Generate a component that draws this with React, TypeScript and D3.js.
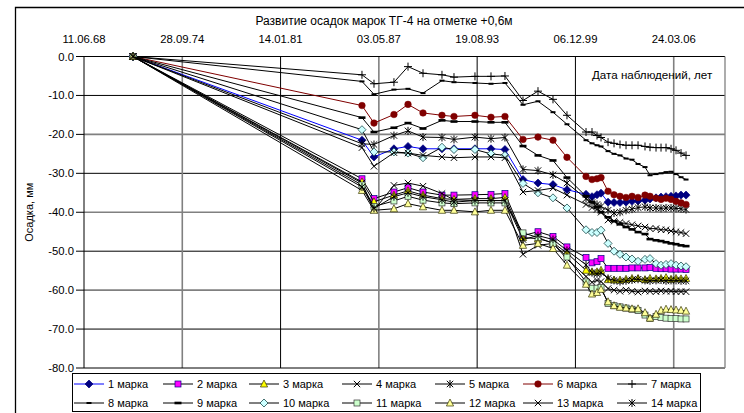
import React from "react";
import * as d3 from "d3";

const W = 744;
const H = 413;

const chartTitle = "Развитие осадок марок ТГ-4 на отметке +0,6м";
const yAxisTitle = "Осадка, мм";
const xAxisTitle = "Дата наблюдений, лет";
const xTickLabels = ["11.06.68", "28.09.74", "14.01.81", "03.05.87", "19.08.93", "06.12.99", "24.03.06"];
const yTickValues = [0, -10, -20, -30, -40, -50, -60, -70, -80];

const obsDates = [
  "1971-08-02", "1986-04-03", "1987-01-09", "1988-04-20", "1989-03-15", "1990-03-01",
  "1991-05-19", "1992-02-24", "1993-06-29", "1994-07-09", "1995-06-01", "1996-07-27",
  "1997-07-13", "1998-06-29", "1999-05-22", "2000-08-10", "2000-12-28", "2001-04-24",
  "2001-07-27", "2002-01-07", "2002-05-27", "2002-10-14", "2003-03-04", "2003-07-22",
  "2003-12-10", "2004-05-21", "2004-09-15", "2005-02-03", "2005-05-31", "2005-09-25",
  "2006-01-20", "2006-05-17", "2006-09-11", "2007-01-06",
];

const seriesNames = [
  "1 марка", "2 марка", "3 марка", "4 марка", "5 марка", "6 марка", "7 марка",
  "8 марка", "9 марка", "10 марка", "11 марка", "12 марка", "13 марка", "14 марка",
];

const s1 = [0, -21.5, -25.8, -23.7, -23.1, -23.7, -23.7, -23.7, -23.7, -23.7, -23.9, -31.6, -32.5, -32.9, -34.2, -35.4, -36.0, -35.5, -35.1, -37.4, -37.5, -37.5, -37.4, -37.2, -37.1, -36.9, -36.6, -36.3, -36.1, -36.0, -35.9, -35.8, -35.6, -35.6];
const s2 = [0, -31.4, -36.5, -34.8, -33.7, -34.8, -35.6, -35.6, -35.5, -35.4, -35.2, -46.0, -45.0, -46.2, -48.9, -51.6, -53.0, -52.7, -51.9, -54.4, -54.4, -54.4, -54.4, -54.3, -54.3, -54.3, -54.2, -54.4, -54.5, -54.5, -54.6, -54.6, -54.6, -54.7];
const s3 = [0, -32.2, -37.3, -35.6, -34.5, -35.6, -36.5, -36.7, -36.5, -36.5, -36.2, -46.5, -46.8, -47.8, -50.5, -54.9, -55.3, -55.3, -54.9, -57.3, -57.4, -57.4, -57.2, -57.0, -57.0, -57.3, -57.0, -57.1, -57.0, -56.8, -57.2, -57.0, -57.1, -57.0];
const s4 = [0, -32.5, -39.5, -33.1, -32.5, -33.3, -35.2, -36.8, -37.0, -37.0, -37.0, -50.8, -48.5, -48.0, -52.0, -56.5, -58.0, -57.5, -57.8, -59.6, -60.0, -60.3, -60.0, -60.3, -60.5, -60.2, -60.3, -60.4, -60.2, -60.3, -60.3, -60.4, -60.4, -60.4];
const s5 = [0, -22.4, -22.6, -20.3, -19.1, -20.7, -20.8, -21.3, -20.7, -21.1, -20.8, -29.0, -29.3, -30.4, -32.5, -36.5, -37.5, -38.0, -38.5, -39.5, -40.2, -40.0, -39.5, -39.2, -38.8, -38.6, -38.9, -38.9, -39.0, -38.9, -38.9, -39.0, -39.1, -39.3];
const s6 = [0, -12.6, -17.1, -14.9, -12.3, -14.5, -15.1, -15.4, -15.1, -15.6, -15.4, -21.3, -20.7, -21.5, -25.9, -30.8, -31.6, -31.4, -31.1, -34.6, -35.5, -35.9, -36.2, -35.9, -36.2, -35.6, -35.9, -36.4, -36.7, -36.4, -36.7, -37.2, -37.6, -38.0];
const s7 = [0, -4.7, -7.0, -6.6, -2.6, -4.3, -4.7, -5.3, -5.1, -5.1, -5.0, -11.3, -8.9, -11.0, -15.1, -19.4, -19.4, -20.3, -20.8, -22.0, -22.3, -22.6, -22.8, -22.8, -22.8, -23.1, -23.3, -23.4, -23.4, -23.4, -23.7, -24.1, -24.8, -25.4];
const s8 = [0, -6.4, -9.7, -8.5, -8.3, -9.4, -6.2, -6.6, -6.8, -7.0, -6.8, -12.4, -11.5, -14.3, -17.4, -21.5, -22.3, -22.8, -23.1, -24.3, -25.0, -25.4, -26.2, -26.5, -27.6, -28.4, -30.5, -30.2, -30.0, -29.7, -29.6, -30.2, -31.0, -31.6];
const s9 = [0, -15.7, -19.4, -18.3, -17.1, -18.5, -16.4, -16.7, -16.7, -16.9, -16.9, -23.0, -25.4, -26.7, -31.1, -35.9, -37.4, -38.7, -40.0, -41.3, -42.3, -43.1, -43.8, -44.4, -45.1, -45.6, -46.9, -47.2, -47.4, -47.7, -48.0, -48.2, -48.5, -48.7];
const s10 = [0, -18.8, -24.5, -24.5, -24.8, -26.0, -23.3, -23.9, -23.9, -25.0, -25.4, -32.6, -35.0, -36.3, -38.9, -44.5, -45.2, -45.2, -44.6, -48.0, -50.0, -50.8, -51.5, -52.0, -52.6, -52.1, -51.9, -53.2, -53.6, -53.4, -53.2, -53.6, -53.8, -54.0];
const s11 = [0, -33.0, -38.5, -37.1, -35.9, -36.9, -37.6, -37.8, -37.6, -37.6, -37.6, -45.3, -46.5, -48.0, -51.5, -57.9, -59.5, -59.5, -59.3, -63.4, -64.0, -64.3, -64.6, -64.9, -65.2, -66.4, -67.3, -66.8, -67.0, -67.2, -67.3, -67.3, -67.4, -67.4];
const s12 = [0, -34.4, -39.5, -39.1, -37.8, -38.6, -39.5, -39.5, -39.9, -39.5, -39.5, -48.5, -48.0, -49.3, -53.6, -58.5, -61.0, -60.6, -59.8, -63.0, -64.0, -64.4, -64.6, -64.8, -64.8, -65.8, -67.2, -66.2, -65.2, -64.9, -65.0, -65.1, -65.2, -65.4];
const s13 = [0, -23.4, -28.2, -24.7, -24.8, -25.4, -25.8, -26.0, -25.8, -25.8, -26.0, -34.8, -34.4, -33.8, -35.6, -38.0, -38.8, -39.3, -40.0, -42.0, -42.3, -42.6, -42.9, -43.2, -43.5, -43.8, -44.2, -44.2, -44.5, -44.5, -44.8, -45.0, -45.2, -45.5];
const s14 = [0, -33.5, -39.0, -36.0, -35.0, -36.0, -36.8, -37.4, -37.0, -37.0, -37.0, -47.0, -46.0, -47.0, -49.8, -53.5, -55.5, -55.8, -55.5, -57.0, -57.5, -57.8, -57.6, -57.4, -57.2, -57.5, -57.6, -57.5, -57.4, -57.6, -57.5, -57.5, -57.6, -57.6];

const seriesValues = [s1, s2, s3, s4, s5, s6, s7, s8, s9, s10, s11, s12, s13, s14];

// styles (not data)
type MarkerKind = "diamond" | "square" | "triangle" | "x" | "star" | "circle" | "plus" | "dot" | "dash";
const seriesStyles: { line: string; marker: MarkerKind; fill: string; stroke: string }[] = [
  { line: "#0000FF", marker: "diamond", fill: "#000080", stroke: "#000080" },
  { line: "#000000", marker: "square", fill: "#FF00FF", stroke: "#000080" },
  { line: "#000000", marker: "triangle", fill: "#FFFF00", stroke: "#333300" },
  { line: "#000000", marker: "x", fill: "none", stroke: "#000000" },
  { line: "#000000", marker: "star", fill: "none", stroke: "#000000" },
  { line: "#800000", marker: "circle", fill: "#800000", stroke: "#800000" },
  { line: "#000000", marker: "plus", fill: "none", stroke: "#000000" },
  { line: "#000000", marker: "dot", fill: "#000000", stroke: "none" },
  { line: "#000000", marker: "dash", fill: "#000000", stroke: "none" },
  { line: "#000000", marker: "diamond", fill: "#CCFFFF", stroke: "#003333" },
  { line: "#000000", marker: "square", fill: "#CCFFCC", stroke: "#333333" },
  { line: "#000000", marker: "triangle", fill: "#FFFF99", stroke: "#333300" },
  { line: "#000000", marker: "x", fill: "none", stroke: "#000000" },
  { line: "#000000", marker: "star", fill: "none", stroke: "#000000" },
];

const FONT = "'Liberation Sans', Arial, sans-serif";
const PLOT = { left: 84, right: 725, top: 56.5, bottom: 368 };

const parseIso = d3.utcParse("%Y-%m-%d");
function parseTick(s: string): Date {
  const [dd, mm, yy] = s.split(".").map(Number);
  const year = yy < 30 ? 2000 + yy : 1900 + yy;
  return new Date(Date.UTC(year, mm - 1, dd));
}

const DAY = 86400000;
const xStart = parseTick(xTickLabels[0]);
const xEnd = new Date(xStart.getTime() + 15000 * DAY);

function Marker({ kind, fill, stroke, x, y }: { kind: MarkerKind; fill: string; stroke: string; x: number; y: number }) {
  const t = `translate(${x},${y})`;
  switch (kind) {
    case "diamond":
      return <path transform={t} d="M0,-4L4,0L0,4L-4,0Z" fill={fill} stroke={stroke} strokeWidth={0.7} />;
    case "square":
      return <rect transform={t} x={-3} y={-3} width={6} height={6} fill={fill} stroke={stroke} strokeWidth={0.7} />;
    case "triangle":
      return <path transform={t} d="M0,-4L3.6,3L-3.6,3Z" fill={fill} stroke={stroke} strokeWidth={0.7} />;
    case "circle":
      return <circle transform={t} r={3.3} fill={fill} stroke={stroke} strokeWidth={0.5} />;
    case "x":
      return <path transform={t} d="M-3.2,-3.2L3.2,3.2M-3.2,3.2L3.2,-3.2" stroke={stroke} strokeWidth={1} fill="none" />;
    case "star":
      return <path transform={t} d="M-3.2,-3.2L3.2,3.2M-3.2,3.2L3.2,-3.2M0,-4L0,4" stroke={stroke} strokeWidth={1} fill="none" />;
    case "plus":
      return <path transform={t} d="M-4,0L4,0M0,-4L0,4" stroke={stroke} strokeWidth={1} fill="none" />;
    case "dot":
      return <rect transform={t} x={-2.5} y={-1} width={5} height={2} fill={fill} />;
    case "dash":
      return <rect transform={t} x={-3.5} y={-1.3} width={7} height={2.6} fill={fill} />;
  }
  return null;
}

export default function App() {
  const x = d3.scaleUtc().domain([xStart, xEnd]).range([PLOT.left, PLOT.right]);
  const y = d3.scaleLinear().domain([-80, 0]).range([PLOT.bottom, PLOT.top]);
  const dates = obsDates.map((d) => parseIso(d) as Date);
  const line = d3
    .line<[Date, number]>()
    .x((d) => x(d[0]))
    .y((d) => y(d[1]));

  const tickDates = xTickLabels.map(parseTick);

  const legendCols = [108, 197, 283, 376, 469, 557, 651];
  const legendRows = [384, 403];

  return (
    <svg
      width={W}
      height={H}
      viewBox={`0 0 ${W} ${H}`}
      style={{ position: "absolute", left: 0, top: 0, background: "#fff" }}
      fontFamily={FONT}
    >
      <rect x={0} y={0} width={W} height={H} fill="#fff" />
      {/* outer frame */}
      <path d={`M15.5,${H}L15.5,7.5L${W},7.5`} fill="none" stroke="#000" strokeWidth={1.3} />

      {/* title */}
      <text x={384} y={25} textAnchor="middle" fontSize={12} fill="#000">
        {chartTitle}
      </text>

      {/* x tick labels (top) */}
      {tickDates.map((d, i) => (
        <text key={i} x={x(d)} y={43} textAnchor="middle" fontSize={11.3} fill="#000">
          {xTickLabels[i]}
        </text>
      ))}

      {/* horizontal gridlines */}
      {yTickValues.map((v, i) => {
        if (v === 0 || v === -80) return null;
        const gray = i % 2 === 0;
        return (
          <line
            key={i}
            x1={PLOT.left}
            x2={PLOT.right}
            y1={y(v)}
            y2={y(v)}
            stroke={gray ? "#808080" : "#000"}
            strokeWidth={gray ? 1.6 : 1}
          />
        );
      })}
      {/* vertical gridlines */}
      {tickDates.map((d, i) => {
        if (i === 0) return null;
        const gray = i === 1 || i === 3 || i === 6;
        return (
          <line
            key={i}
            x1={x(d)}
            x2={x(d)}
            y1={PLOT.top}
            y2={PLOT.bottom}
            stroke={gray ? "#808080" : "#000"}
            strokeWidth={gray ? 1.6 : 1}
          />
        );
      })}
      {/* plot frame */}
      <line x1={PLOT.left} x2={PLOT.right} y1={PLOT.top} y2={PLOT.top} stroke="#000" strokeWidth={1} />
      <line x1={PLOT.left} x2={PLOT.right} y1={PLOT.bottom} y2={PLOT.bottom} stroke="#000" strokeWidth={1} />
      <line x1={PLOT.right} x2={PLOT.right} y1={PLOT.top} y2={PLOT.bottom} stroke="#808080" strokeWidth={1.3} />
      <line x1={PLOT.left} x2={PLOT.left} y1={PLOT.top} y2={PLOT.bottom} stroke="#000" strokeWidth={1} />

      {/* y ticks & labels */}
      {yTickValues.map((v, i) => (
        <g key={i}>
          <line x1={PLOT.left - 8} x2={PLOT.left} y1={y(v)} y2={y(v)} stroke="#000" />
          <text x={PLOT.left - 10} y={y(v) + 4} textAnchor="end" fontSize={11.3} fill="#000">
            {v.toFixed(1)}
          </text>
        </g>
      ))}

      {/* y axis title */}
      <text
        transform={`translate(33,${(PLOT.top + PLOT.bottom) / 2}) rotate(-90)`}
        textAnchor="middle"
        fontSize={11}
        fill="#000"
      >
        {yAxisTitle}
      </text>

      {/* x axis title inside plot */}
      <text x={592} y={79} fontSize={11.6} fill="#000">
        {xAxisTitle}
      </text>

      {/* series */}
      {seriesValues.map((vals, si) => {
        const st = seriesStyles[si];
        const pts = vals.map((v, i) => [dates[i], v] as [Date, number]);
        return (
          <g key={si}>
            <path d={line(pts) || ""} fill="none" stroke={st.line} strokeWidth={1} />
            {pts.map((p, i) => (
              <Marker key={i} kind={st.marker} fill={st.fill} stroke={st.stroke} x={x(p[0])} y={y(p[1])} />
            ))}
          </g>
        );
      })}

      {/* legend */}
      <rect x={72.5} y={373.5} width={628} height={38} fill="#fff" stroke="#000" strokeWidth={1} />
      {seriesNames.map((name, i) => {
        const col = i % 7;
        const row = Math.floor(i / 7);
        const tx = legendCols[col];
        const ty = legendRows[row];
        const st = seriesStyles[i];
        return (
          <g key={i}>
            <line x1={tx - 34} x2={tx - 4} y1={ty} y2={ty} stroke={st.line} strokeWidth={1} />
            <Marker kind={st.marker} fill={st.fill} stroke={st.stroke} x={tx - 19} y={ty} />
            <text x={tx} y={ty + 4} fontSize={11} fill="#000">
              {name}
            </text>
          </g>
        );
      })}
    </svg>
  );
}
